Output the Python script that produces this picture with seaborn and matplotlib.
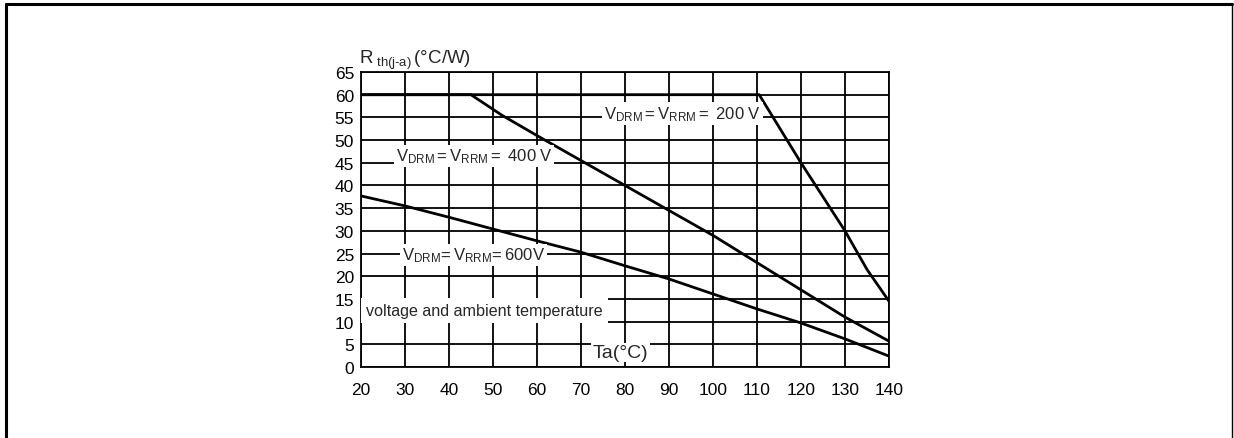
import matplotlib
matplotlib.use("Agg")
import matplotlib.pyplot as plt
import seaborn as sns
import pandas as pd
from matplotlib.lines import Line2D

# curves: Rth(j-a) vs Ta for three voltage classes
ta_200 = [20, 110.5, 120, 125, 130, 135, 140]
rth_200 = [60, 60, 45, 37.5, 30, 21.5, 14.5]

ta_400 = [20, 45, 52, 60, 70, 80, 90, 100, 110, 120, 130, 140]
rth_400 = [60, 60, 55.5, 51, 45.5, 40, 34.5, 29, 23, 17, 11, 5.7]

ta_600 = [20, 30, 40, 50, 60, 70, 80, 90, 100, 110, 120, 130, 140]
rth_600 = [37.7, 35.5, 33, 30.4, 27.8, 25.3, 22.3, 19.4, 16.1, 12.8, 9.7, 6.2, 2.4]

x_ticks = list(range(20, 141, 10))
y_ticks = list(range(0, 66, 5))

sns.set_theme(style="white")
plt.rcParams['font.family'] = ['Liberation Sans', 'DejaVu Sans']
plt.rcParams['mathtext.fontset'] = 'custom'
plt.rcParams['mathtext.rm'] = 'Liberation Sans'
plt.rcParams['mathtext.it'] = 'Liberation Sans'

fig = plt.figure(figsize=(12.34, 4.39), dpi=100)
ax = fig.add_axes([0.2925, 0.1617, 0.4279, 0.672])

df = pd.concat([
    pd.DataFrame({'Ta': ta_200, 'Rth': rth_200, 'V': '200'}),
    pd.DataFrame({'Ta': ta_400, 'Rth': rth_400, 'V': '400'}),
    pd.DataFrame({'Ta': ta_600, 'Rth': rth_600, 'V': '600'}),
])
for v, g in df.groupby('V'):
    sns.lineplot(data=g, x='Ta', y='Rth', ax=ax, color='black', linewidth=2.0,
                 sort=False, estimator=None, zorder=3)

ax.set_xlim(20, 140)
ax.set_ylim(0, 65)
ax.set_xticks(x_ticks)
ax.set_yticks(y_ticks)
ax.tick_params(axis='both', labelsize=12.5, length=0, colors='black')
ax.tick_params(axis='x', pad=11)
ax.tick_params(axis='y', pad=5)
ax.set_xlabel('')
ax.set_ylabel('')
ax.grid(True, color='black', linewidth=1.3)
ax.set_axisbelow(True)
for s in ax.spines.values():
    s.set_color('black')
    s.set_linewidth(1.3)

box = dict(facecolor='white', edgecolor='none', pad=1.5)
ax.text(93, 55.8, r'$\mathregular{V_{DRM} = V_{RRM} = \ 200\ V}$', fontsize=12,
        ha='center', va='center', bbox=box, zorder=4)
ax.text(45.7, 46.5, r'$\mathregular{V_{DRM} = V_{RRM} = \ 400\ V}$', fontsize=12,
        ha='center', va='center', bbox=box, zorder=4)
ax.text(45.5, 24.7, r'$\mathregular{V_{DRM}\!= V_{RRM}\!= 600V}$', fontsize=12,
        ha='center', va='center', bbox=box, zorder=4)
ax.text(21.2, 12.5, 'voltage and ambient temperature', fontsize=11.6,
        ha='left', va='center', zorder=4,
        bbox=dict(facecolor='white', edgecolor='none', pad=3.5))
ax.text(79, 3.2, 'Ta(°C)', fontsize=14, ha='center', va='center', zorder=4,
        bbox=dict(facecolor='white', edgecolor='none', pad=1))

fig.text(359 / 1234, 1 - 60 / 439, r'$\mathregular{R_{\ th(j\text{-}a)}\,(°C/W)}$',
         fontsize=13.5, ha='left', va='center')

# outer frame of the page figure
fig.add_artist(Line2D([6 / 1234, 6 / 1234], [0, 1 - 5 / 439], color='black', linewidth=2.2,
                      transform=fig.transFigure))
fig.add_artist(Line2D([6 / 1234, 1232 / 1234], [1 - 5 / 439, 1 - 5 / 439], color='black',
                      linewidth=2.2, transform=fig.transFigure))
fig.add_artist(Line2D([1232 / 1234, 1232 / 1234], [0, 1 - 5 / 439], color='black',
                      linewidth=1.0, transform=fig.transFigure))

fig.savefig('out.png', dpi=100)
